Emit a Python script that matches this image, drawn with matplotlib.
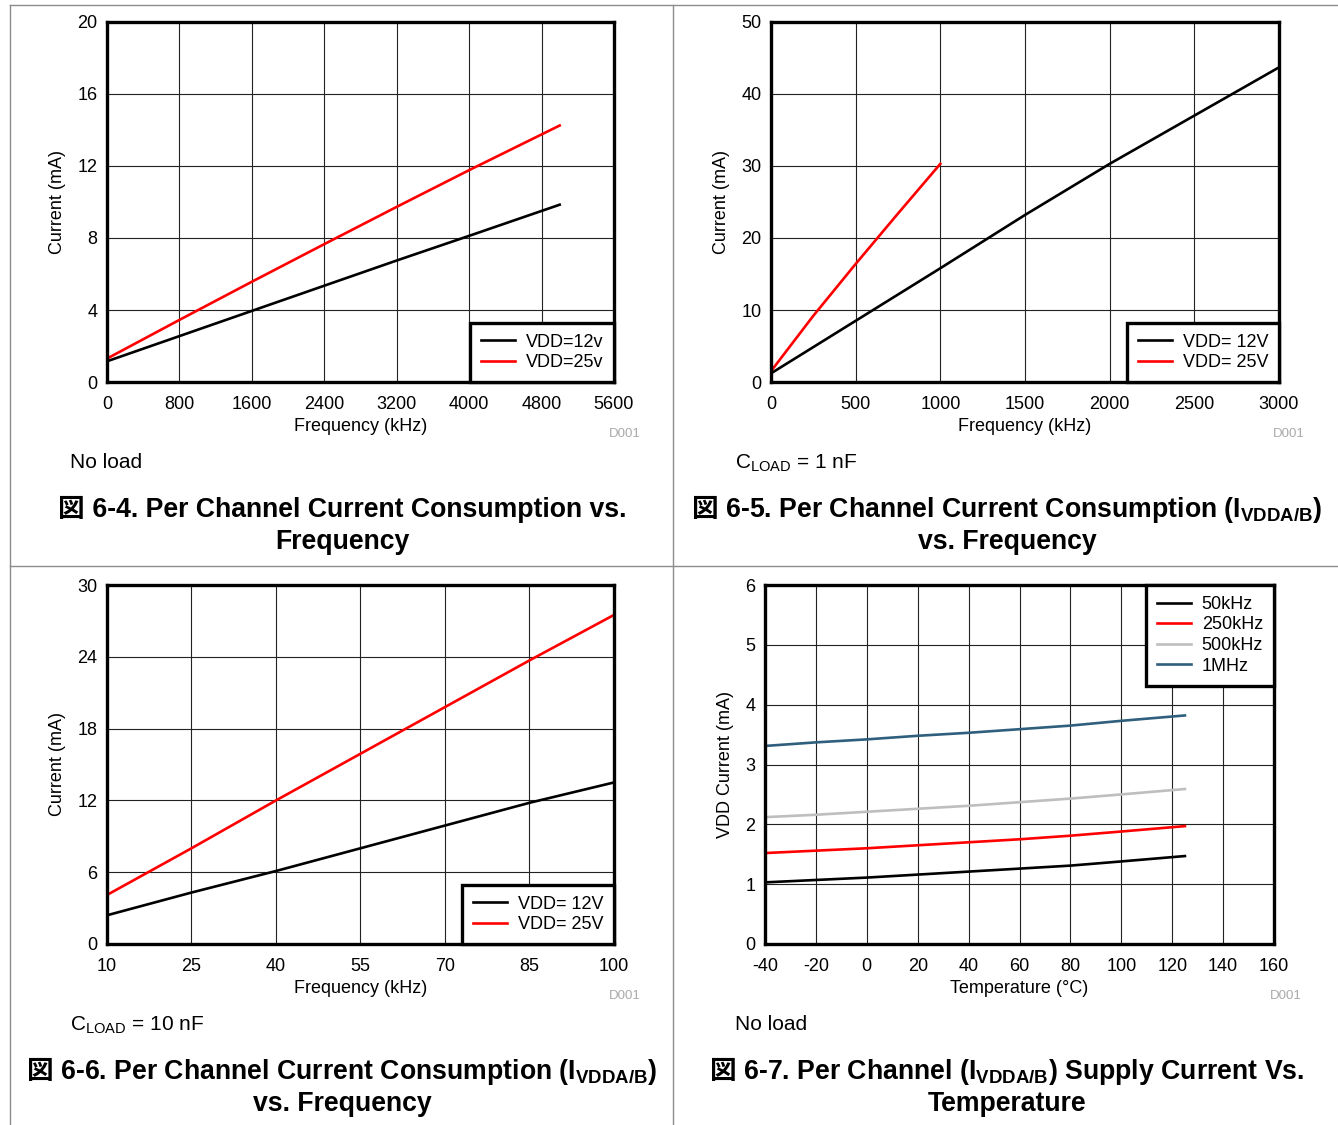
import matplotlib
matplotlib.use('Agg')
from matplotlib import pyplot as plt

plt.rcParams['font.family'] = ['Liberation Sans', 'Noto Sans CJK JP']
plt.rcParams['mathtext.fontset'] = 'custom'
plt.rcParams['mathtext.rm'] = 'Liberation Sans'
plt.rcParams['mathtext.bf'] = 'Liberation Sans:bold'
plt.rcParams['mathtext.it'] = 'Liberation Sans:italic'
plt.rcParams['axes.unicode_minus'] = False

# 6-4: no load
f64 = [0, 800, 1600, 2400, 3200, 4000, 5000]
i64_12v = [1.15, 2.55, 3.95, 5.35, 6.75, 8.12, 9.85]
i64_25v = [1.3, 3.45, 5.57, 7.66, 9.73, 11.77, 14.25]

# 6-5: CLOAD = 1 nF
f65_12v = [0, 500, 1000, 1500, 2000, 2500, 3000]
i65_12v = [1.2, 8.5, 15.8, 23.2, 30.3, 37.0, 43.7]
f65_25v = [0, 250, 500, 750, 1000]
i65_25v = [1.5, 9.2, 16.4, 23.4, 30.3]

# 6-6: CLOAD = 10 nF
f66 = [10, 25, 40, 55, 70, 85, 100]
i66_12v = [2.4, 4.3, 6.1, 8.0, 9.9, 11.8, 13.5]
i66_25v = [4.1, 8.0, 12.0, 15.9, 19.8, 23.7, 27.5]

# 6-7: vs temperature
temps = [-40, -20, 0, 20, 40, 60, 80, 100, 125]
i67_50k = [1.03, 1.07, 1.11, 1.16, 1.21, 1.26, 1.31, 1.38, 1.47]
i67_250k = [1.52, 1.56, 1.60, 1.65, 1.70, 1.75, 1.81, 1.88, 1.97]
i67_500k = [2.12, 2.16, 2.21, 2.26, 2.31, 2.37, 2.43, 2.50, 2.59]
i67_1m = [3.31, 3.37, 3.42, 3.48, 3.53, 3.59, 3.65, 3.73, 3.82]

W, H = 1338, 1125
fig = plt.figure(figsize=(W / 100, H / 100), dpi=100)
FS = 13
LW = 1.9


def box(l, t, r, b):
    return [l / W, 1 - b / H, (r - l) / W, (b - t) / H]


def style(ax, xticks, yticks, xlabel, ylabel):
    ax.set_xlim(xticks[0], xticks[-1])
    ax.set_ylim(yticks[0], yticks[-1])
    ax.set_xticks(xticks)
    ax.set_yticks(yticks)
    ax.grid(True, color='#222222', lw=0.8)
    ax.set_axisbelow(True)
    ax.tick_params(length=0, labelsize=FS)
    ax.tick_params(axis='x', pad=10)
    ax.tick_params(axis='y', pad=7)
    for s in ax.spines.values():
        s.set_linewidth(2.4)
        s.set_zorder(5)
    ax.set_xlabel(xlabel, fontsize=FS, labelpad=4)
    ax.set_ylabel(ylabel, fontsize=FS, labelpad=8)


def legend(ax, loc, anchor):
    lg = ax.legend(loc=loc, bbox_to_anchor=anchor, borderaxespad=0, fontsize=FS,
                   fancybox=False, framealpha=1, edgecolor='black',
                   handlelength=1.9, handletextpad=0.6, labelspacing=0.2,
                   borderpad=0.6)
    lg.get_frame().set_linewidth(2.4)
    lg.set_zorder(6)


ax1 = fig.add_axes(box(107, 22, 614, 382))
ax1.plot(f64, i64_12v, c='black', lw=LW, label='VDD=12v')
ax1.plot(f64, i64_25v, c='red', lw=LW, label='VDD=25v')
style(ax1, [0, 800, 1600, 2400, 3200, 4000, 4800, 5600], [0, 4, 8, 12, 16, 20],
      'Frequency (kHz)', 'Current (mA)')
legend(ax1, 'lower right', (1, 0))

ax2 = fig.add_axes(box(771, 22, 1279, 382))
ax2.plot(f65_12v, i65_12v, c='black', lw=LW, label='VDD= 12V')
ax2.plot(f65_25v, i65_25v, c='red', lw=LW, label='VDD= 25V')
style(ax2, [0, 500, 1000, 1500, 2000, 2500, 3000], [0, 10, 20, 30, 40, 50],
      'Frequency (kHz)', 'Current (mA)')
legend(ax2, 'lower right', (1, 0))

ax3 = fig.add_axes(box(107, 585, 614, 944))
ax3.plot(f66, i66_12v, c='black', lw=LW, label='VDD= 12V')
ax3.plot(f66, i66_25v, c='red', lw=LW, label='VDD= 25V')
style(ax3, [10, 25, 40, 55, 70, 85, 100], [0, 6, 12, 18, 24, 30],
      'Frequency (kHz)', 'Current (mA)')
legend(ax3, 'lower right', (1, 0))

ax4 = fig.add_axes(box(765, 585, 1274, 944))
ax4.plot(temps, i67_50k, c='black', lw=LW, label='50kHz')
ax4.plot(temps, i67_250k, c='red', lw=LW, label='250kHz')
ax4.plot(temps, i67_500k, c='#BEBEBE', lw=LW, label='500kHz')
ax4.plot(temps, i67_1m, c='#2F5F7C', lw=LW, label='1MHz')
style(ax4, [-40, -20, 0, 20, 40, 60, 80, 100, 120, 140, 160], [0, 1, 2, 3, 4, 5, 6],
      'Temperature (°C)', 'VDD Current (mA)')
legend(ax4, 'upper right', (1, 1))

# page overlay: dividers, notes, captions
bg = fig.add_axes([0, 0, 1, 1])
bg.set_xlim(0, 1)
bg.set_ylim(0, 1)
bg.axis('off')
grey = '#8c8c8c'
bg.plot([10 / W, 10 / W], [0, 1 - 5 / H], c=grey, lw=1)
bg.plot([10 / W, 1], [1 - 5 / H, 1 - 5 / H], c=grey, lw=1)
bg.plot([673 / W, 673 / W], [0, 1 - 5 / H], c=grey, lw=1)
bg.plot([10 / W, 1], [1 - 566 / H, 1 - 566 / H], c=grey, lw=1)

for x, y in [(641, 434), (1305, 434), (641, 996), (1302, 996)]:
    fig.text(x / W, 1 - y / H, 'D001', fontsize=9.5, color='#aaaaaa', ha='right', va='center')

fig.text(70 / W, 1 - 462 / H, 'No load', fontsize=15, va='center')
fig.text(735 / W, 1 - 463 / H, r'C$_\mathrm{LOAD}$ = 1 nF', fontsize=15, va='center')
fig.text(70 / W, 1 - 1025 / H, r'C$_\mathrm{LOAD}$ = 10 nF', fontsize=15, va='center')
fig.text(735 / W, 1 - 1024 / H, 'No load', fontsize=15, va='center')

TFS = 19.2
captions = []


def caption(xc, yb, rest, second, yb2):
    y = 1 - yb / H
    t0 = fig.text(xc / W, y, '図', fontsize=TFS, fontweight='bold',
                  family='Noto Sans CJK JP', ha='left', va='baseline')
    t1 = bg.annotate(rest, xy=(1, y), xycoords=(t0, 'figure fraction'),
                     ha='left', va='baseline', fontsize=TFS, fontweight='bold')
    fig.text(xc / W, 1 - yb2 / H, second, fontsize=TFS, fontweight='bold',
             ha='center', va='baseline')
    captions.append((xc, t0, t1))


caption(342, 517, ' 6-4. Per Channel Current Consumption vs.', 'Frequency', 549)
caption(1007, 517, r' 6-5. Per Channel Current Consumption (I$_\mathbf{VDDA/B}$)',
        'vs. Frequency', 549)
caption(342, 1079, r' 6-6. Per Channel Current Consumption (I$_\mathbf{VDDA/B}$)',
        'vs. Frequency', 1111)
caption(1007, 1079, r' 6-7. Per Channel (I$_\mathbf{VDDA/B}$) Supply Current Vs.',
        'Temperature', 1111)

# centre each two-part caption line
fig.canvas.draw()
r = fig.canvas.get_renderer()
for xc, t0, t1 in captions:
    left = t0.get_window_extent(r).x0
    right = t1.get_window_extent(r).x1
    t0.set_x((xc - (right - left) / 2) / W)

plt.savefig('out.png', dpi=100)
